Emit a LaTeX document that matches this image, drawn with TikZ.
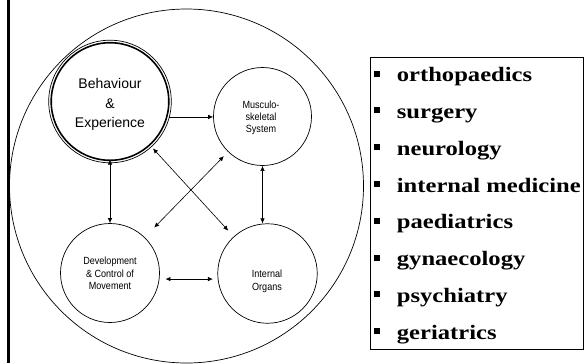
\documentclass[tikz,border=0pt]{standalone}
\usepackage{fontspec}
\setmainfont{Liberation Sans}
\newfontfamily\sansN[FakeStretch=0.87]{Liberation Sans}
\newfontfamily\listfont[FakeStretch=1.2]{Liberation Serif Bold}
\usetikzlibrary{arrows.meta}
\begin{document}
\begin{tikzpicture}[x=1bp,y=-1bp,
  ring/.style={circle,draw,line width=0.7bp,inner sep=0pt,minimum size=#1},
  arr/.style={line width=0.6bp,-{Latex[length=5bp,width=4.5bp]}},
  darr/.style={line width=0.6bp,{Latex[length=5bp,width=4.5bp]}-{Latex[length=5bp,width=4.5bp]}},
  bigtxt/.style={inner sep=0pt,align=center,font={\fontsize{14bp}{19.5bp}\selectfont}},
  smalltxt/.style={inner sep=0pt,align=center,font={\sansN\fontsize{10.4bp}{#1}\selectfont}},
  item/.style={anchor=base west,inner sep=0pt,font={\listfont\fontsize{20.5bp}{24bp}\selectfont}},
  bul/.style={fill=black}
]
\useasboundingbox (0,0) rectangle (585,363);
% left rule
\draw[line width=2.5bp] (8.3,0) -- (8.3,363);
% big circle
\draw[line width=0.7bp] (186.5,186) circle[radius=177bp];
% circles
\node[ring=117.6bp,line width=1.6bp] (beh) at (110,101.5) {};
\draw[line width=0.7bp] (beh.center) circle[radius=61.3bp];
\node[ring=98bp] (mus) at (262.5,116.5) {};
\node[ring=99bp] (dev) at (110,273) {};
\node[ring=99.5bp] (int) at (267.5,273.5) {};
% texts
\node[bigtxt] (behtxt) at (110,104.5) {Behaviour\\\&\\Experience};
\node[smalltxt=12bp] (mustxt) at (261,117.8) {Musculo-\\skeletal\\System};
\node[smalltxt=12.5bp] (devtxt) at (110,273.7) {Development\\\& Control of\\Movement};
\node[smalltxt=12.4bp] (inttxt) at (267,281.5) {Internal\\Organs};
% connectors
\draw[arr] ([shift={(1.5bp,0)}]beh.-15) -- (beh.-15 -| mus.west);
\draw[darr,shorten <=-1.5bp] (beh.south) -- (dev.north);
\draw[darr] (mus.south) -- (mus.south |- int.north);
\draw[darr,shorten <=6bp,shorten >=4.5bp] (dev.-7) -- (dev.-7 -| int.west);
\draw[darr,shorten <=4bp,shorten >=8bp] (beh) -- (int);
\draw[darr,shorten <=6bp,shorten >=13.5bp] (mus) -- (dev);
% list box
\draw[line width=0.8bp] (370,57) rectangle (583.5,349.3);
\foreach \t [count=\i from 0] in {orthopaedics,surgery,neurology,internal medicine,paediatrics,gynaecology,psychiatry,geriatrics}{
  \pgfmathsetmacro{\yb}{81.7+\i*36.8}
  \fill[bul] (374,\yb-11.2) rectangle (380,\yb-5.2);
  \node[item] (li\i) at (396.7,\yb) {\t};
}
\end{tikzpicture}
\end{document}
